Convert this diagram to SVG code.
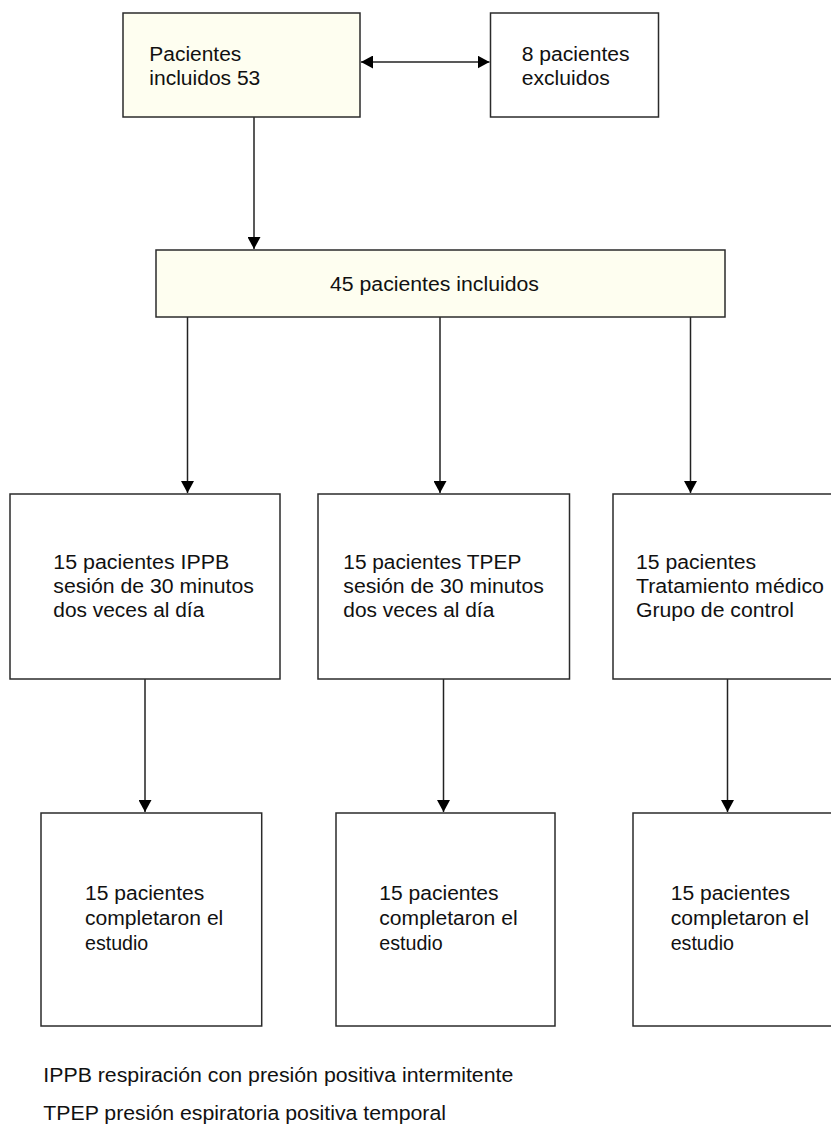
<svg xmlns="http://www.w3.org/2000/svg" width="831" height="1127" viewBox="0 0 831 1127">
<style>
.box{fill:#ffffff;stroke:#2b2b2b;stroke-width:1.5}
.hl{fill:#fefef0}
.t{font-family:"Liberation Sans",Arial,sans-serif;font-size:19.5px;fill:#111}
.c{stroke:#222;stroke-width:1.5;fill:none}
</style>
<defs>
<marker id="ah" markerUnits="userSpaceOnUse" markerWidth="12" markerHeight="13" refX="12" refY="6.5" orient="auto-start-reverse" viewBox="0 0 12 13">
<path d="M0,0 L12,6.5 L0,13 z" fill="#000"/>
</marker>
</defs>
<rect width="831" height="1127" fill="#fff"/>
<g id="connectors">
<line class="c" x1="361" y1="62" x2="489.5" y2="62" marker-start="url(#ah)" marker-end="url(#ah)"/>
<line class="c" x1="254" y1="117" x2="254" y2="249" marker-end="url(#ah)"/>
<line class="c" x1="187.5" y1="317" x2="187.5" y2="493" marker-end="url(#ah)"/>
<line class="c" x1="440" y1="317" x2="440" y2="493" marker-end="url(#ah)"/>
<line class="c" x1="690.5" y1="317" x2="690.5" y2="493" marker-end="url(#ah)"/>
<line class="c" x1="145" y1="679" x2="145" y2="812" marker-end="url(#ah)"/>
<line class="c" x1="443.5" y1="679" x2="443.5" y2="812" marker-end="url(#ah)"/>
<line class="c" x1="727.5" y1="679" x2="727.5" y2="812" marker-end="url(#ah)"/>
</g>
<g id="n-incluidos53">
<rect class="box hl" x="123" y="13" width="237" height="104"/>
<text class="t" x="149.3" y="61" textLength="92" lengthAdjust="spacingAndGlyphs">Pacientes</text>
<text class="t" x="149.3" y="84.5" textLength="111" lengthAdjust="spacingAndGlyphs">incluidos 53</text>
</g>
<g id="n-excluidos">
<rect class="box" x="490.5" y="13" width="168" height="104"/>
<text class="t" x="521.7" y="61" textLength="108" lengthAdjust="spacingAndGlyphs">8 pacientes</text>
<text class="t" x="521.7" y="85" textLength="88" lengthAdjust="spacingAndGlyphs">excluidos</text>
</g>
<g id="n-incluidos45">
<rect class="box hl" x="156" y="250" width="569" height="67"/>
<text class="t" x="330" y="291" textLength="209" lengthAdjust="spacingAndGlyphs">45 pacientes incluidos</text>
</g>
<g id="n-ippb">
<rect class="box" x="10" y="494" width="270" height="185"/>
<text class="t" x="53.3" y="569" textLength="176" lengthAdjust="spacingAndGlyphs">15 pacientes IPPB</text>
<text class="t" x="53.3" y="593" textLength="200.5" lengthAdjust="spacingAndGlyphs">sesión de 30 minutos</text>
<text class="t" x="53.3" y="617" textLength="151" lengthAdjust="spacingAndGlyphs">dos veces al día</text>
</g>
<g id="n-tpep">
<rect class="box" x="318" y="494" width="251.5" height="185"/>
<text class="t" x="343.3" y="569" textLength="178" lengthAdjust="spacingAndGlyphs">15 pacientes TPEP</text>
<text class="t" x="343.3" y="593" textLength="200.5" lengthAdjust="spacingAndGlyphs">sesión de 30 minutos</text>
<text class="t" x="343.3" y="617" textLength="151" lengthAdjust="spacingAndGlyphs">dos veces al día</text>
</g>
<g id="n-control">
<rect class="box" x="613" y="494" width="230" height="185"/>
<text class="t" x="636" y="569" textLength="120" lengthAdjust="spacingAndGlyphs">15 pacientes</text>
<text class="t" x="636" y="593" textLength="188" lengthAdjust="spacingAndGlyphs">Tratamiento médico</text>
<text class="t" x="636" y="617" textLength="158" lengthAdjust="spacingAndGlyphs">Grupo de control</text>
</g>
<g id="n-fin-ippb">
<rect class="box" x="41" y="813" width="220.7" height="213"/>
<text class="t" x="85" y="900" textLength="119.3" lengthAdjust="spacingAndGlyphs">15 pacientes</text>
<text class="t" x="85" y="925" textLength="138.3" lengthAdjust="spacingAndGlyphs">completaron el</text>
<text class="t" x="85" y="950" textLength="63.3" lengthAdjust="spacingAndGlyphs">estudio</text>
</g>
<g id="n-fin-tpep">
<rect class="box" x="336" y="813" width="219" height="213"/>
<text class="t" x="379.3" y="900" textLength="119.3" lengthAdjust="spacingAndGlyphs">15 pacientes</text>
<text class="t" x="379.3" y="925" textLength="138.3" lengthAdjust="spacingAndGlyphs">completaron el</text>
<text class="t" x="379.3" y="950" textLength="63.3" lengthAdjust="spacingAndGlyphs">estudio</text>
</g>
<g id="n-fin-control">
<rect class="box" x="633" y="813" width="210" height="213"/>
<text class="t" x="670.7" y="900" textLength="119.3" lengthAdjust="spacingAndGlyphs">15 pacientes</text>
<text class="t" x="670.7" y="925" textLength="138.3" lengthAdjust="spacingAndGlyphs">completaron el</text>
<text class="t" x="670.7" y="950" textLength="63.3" lengthAdjust="spacingAndGlyphs">estudio</text>
</g>
<g id="legend">
<text class="t" x="43.3" y="1081.5" textLength="470" lengthAdjust="spacingAndGlyphs">IPPB respiración con presión positiva intermitente</text>
<text class="t" x="43.3" y="1120" textLength="402.7" lengthAdjust="spacingAndGlyphs">TPEP presión espiratoria positiva temporal</text>
</g>
</svg>
